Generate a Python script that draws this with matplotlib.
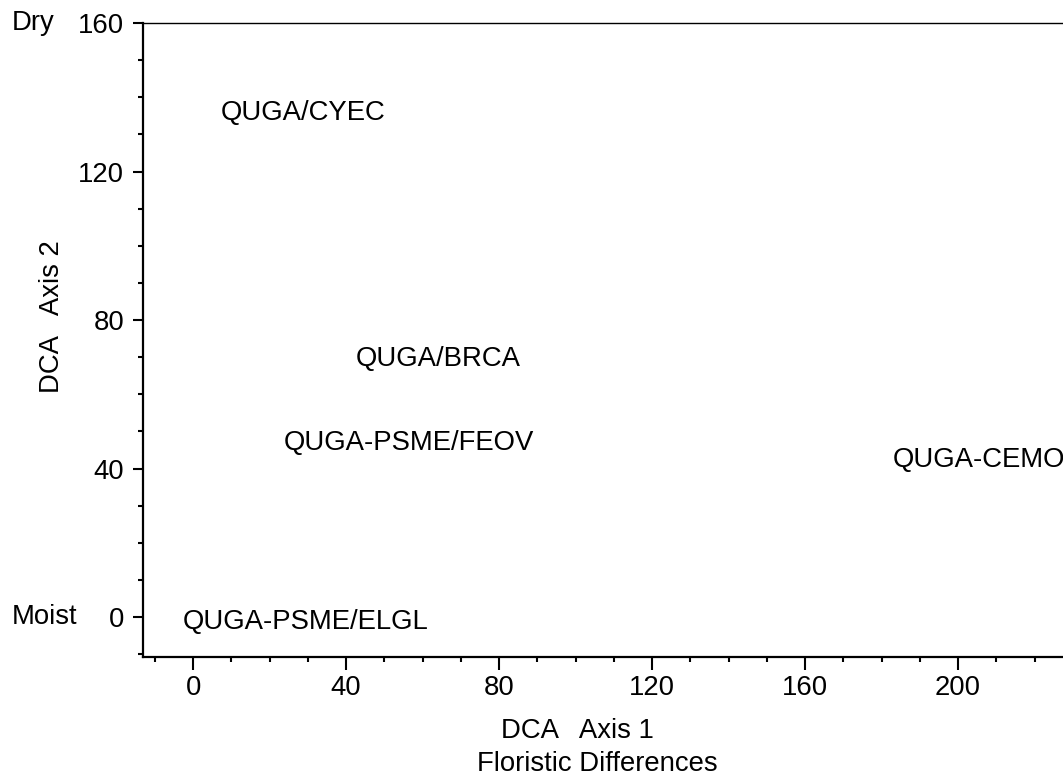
import matplotlib
matplotlib.use("Agg")
import matplotlib.pyplot as plt
import matplotlib.transforms as mtransforms
from matplotlib.ticker import MultipleLocator

plt.rcParams['font.family'] = ['Liberation Sans', 'DejaVu Sans']

# community types placed on the DCA ordination (label centres)
communities = ["QUGA/CYEC", "QUGA/BRCA", "QUGA-PSME/FEOV", "QUGA-CEMO", "QUGA-PSME/ELGL"]
axis1 = [28.8, 64.0, 56.5, 205.4, 29.5]
axis2 = [135.8, 69.6, 46.8, 42.2, -1.3]

x_ticks = [0, 40, 80, 120, 160, 200]
y_ticks = [0, 40, 80, 120, 160]
y_ends = {"Dry": 160, "Moist": 0}

FS = 19.8

fig = plt.figure(figsize=(10.63, 7.78), dpi=100)
# axes runs past the right edge like the scanned figure
ax = fig.add_axes([143 / 1063, 121 / 778, 968 / 1063, 634 / 778])
ax.set_xlim(-13.1, 240)
ax.set_ylim(-10.75, 160)

for name, x, y in zip(communities, axis1, axis2):
    ax.text(x, y, name, ha="center", va="center", fontsize=FS)

ax.set_xticks(x_ticks)
ax.set_yticks(y_ticks)
ax.xaxis.set_minor_locator(MultipleLocator(10))
ax.yaxis.set_minor_locator(MultipleLocator(10))
ax.tick_params(axis="both", which="major", labelsize=FS, width=1.5)
ax.tick_params(axis="x", which="major", length=9, pad=4)
ax.tick_params(axis="y", which="major", length=7.5, pad=6)
ax.tick_params(axis="both", which="minor", length=3.6, width=1.5)

ax.spines["left"].set_linewidth(1.6)
ax.spines["bottom"].set_linewidth(1.6)
ax.spines["top"].set_linewidth(1.0)
ax.spines["right"].set_visible(False)

# Dry / Moist at the ends of the y axis
trans = mtransforms.blended_transform_factory(fig.transFigure, ax.transData)
for word, yv in y_ends.items():
    ax.text(12 / 1063, yv, word, transform=trans, ha="left", va="center",
            fontsize=FS, clip_on=False)

fig.text(52 / 1063, 1 - 317 / 778, "DCA   Axis 2", rotation=90,
         ha="center", va="center", fontsize=FS)
fig.text(577 / 1063, 1 - 731 / 778, "DCA   Axis 1", ha="center", va="center", fontsize=FS)
fig.text(597 / 1063, 1 - 764 / 778, "Floristic Differences", ha="center", va="center", fontsize=FS)

fig.savefig("out.png", dpi=100)
